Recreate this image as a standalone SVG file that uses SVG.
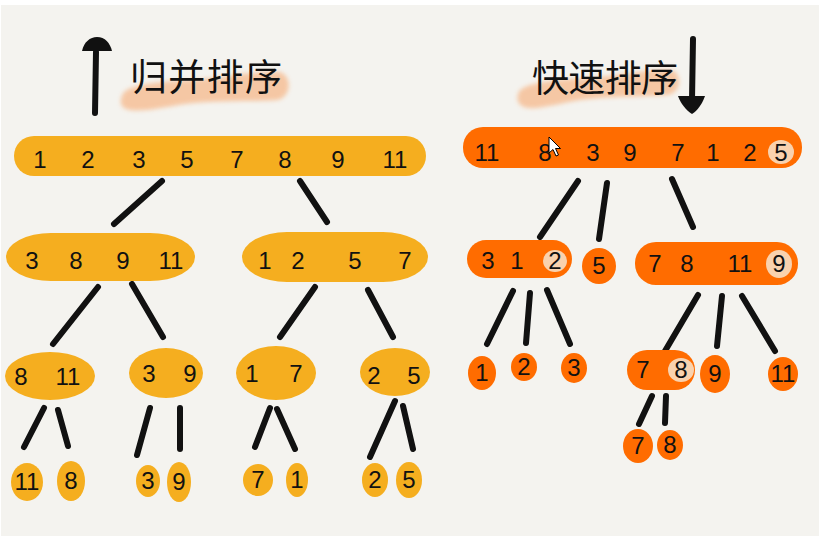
<svg xmlns="http://www.w3.org/2000/svg" width="824" height="536" viewBox="0 0 824 536">
<style>
.m{fill:#f5ae1f}
.q{fill:#ff6c00}
.p{fill:#f9d2ae}
.d{font-family:"Liberation Sans","DejaVu Sans",sans-serif;font-size:24px;fill:#111;text-anchor:middle}
.t{font-family:"Noto Sans CJK SC",sans-serif;font-size:37px;fill:#111}
.c{stroke:#111;stroke-width:6;stroke-linecap:round;fill:none}
.b{fill:#f6c39c;opacity:0.9}
</style>
<defs>
<filter id="blur" x="-10%" y="-40%" width="120%" height="180%"><feGaussianBlur stdDeviation="2"/></filter>
</defs>
<rect x="0" y="0" width="824" height="536" fill="#ffffff"/>
<rect x="1" y="5" width="818" height="531" fill="#f4f3ef"/>

<!-- titles -->
<g id="title-merge">
<path class="b" filter="url(#blur)" d="M122,96 C124,86 150,82 190,80 C225,78 255,70 280,72 C292,76 292,96 278,100 C250,102 215,100 185,104 C160,108 135,114 124,108 C120,105 120,100 122,96 Z"/>
<path d="M95,113 L96,52" class="c"/>
<path d="M82,51 C84,42 90,37 97,37 C105,37 110,43 112,51 Z" fill="#111"/>
<text x="130" y="91" class="t" textLength="152">归并排序</text>
</g>
<g id="title-quick">
<path class="b" filter="url(#blur)" d="M518,94 C520,84 548,80 585,78 C620,76 650,68 672,70 C682,74 682,92 668,95 C640,97 610,96 580,100 C555,104 532,112 522,106 C517,103 517,98 518,94 Z"/>
<path d="M693,39 L692,100" class="c"/>
<path d="M678,96 L705,96 C702,104 698,110 692,114 C686,110 681,104 678,96 Z" fill="#111"/>
<text x="532" y="92" class="t" textLength="146">快速排序</text>
</g>

<!-- connectors -->
<g id="connectors">
<path class="c" d="M162,181 L114,224"/>
<path class="c" d="M300,181 L327,222"/>
<path class="c" d="M98,287 L53,344"/>
<path class="c" d="M132,284 L163,337"/>
<path class="c" d="M315,287 L280,337"/>
<path class="c" d="M368,290 L393,337"/>
<path class="c" d="M44,408 L24,447"/>
<path class="c" d="M58,410 L68,446"/>
<path class="c" d="M150,408 L137,455"/>
<path class="c" d="M180,408 L180,449"/>
<path class="c" d="M270,408 L255,447"/>
<path class="c" d="M277,409 L295,449"/>
<path class="c" d="M395,401 L370,457"/>
<path class="c" d="M403,406 L413,449"/>
<path class="c" d="M578,181 L540,237"/>
<path class="c" d="M607,183 L599,239"/>
<path class="c" d="M672,179 L693,227"/>
<path class="c" d="M513,291 L487,344"/>
<path class="c" d="M530,293 L526,343"/>
<path class="c" d="M547,290 L570,344"/>
<path class="c" d="M698,295 L665,351"/>
<path class="c" d="M722,296 L717,346"/>
<path class="c" d="M742,296 L775,351"/>
<path class="c" d="M652,396 L639,424"/>
<path class="c" d="M666,396 L665,423"/>
</g>

<!-- merge sort nodes -->
<g id="m-root">
<rect class="m" x="14" y="136" width="412" height="40" rx="20"/>
<text class="d" x="40" y="168">1</text><text class="d" x="88" y="168">2</text><text class="d" x="139" y="168">3</text><text class="d" x="187" y="168">5</text><text class="d" x="237" y="168">7</text><text class="d" x="285" y="168">8</text><text class="d" x="338" y="168">9</text><text class="d" x="395" y="168">11</text>
</g>
<g id="m-l">
<rect class="m" x="6" y="233" width="189" height="48" rx="45" ry="24"/>
<text class="d" x="32" y="269">3</text><text class="d" x="76" y="269">8</text><text class="d" x="123" y="269">9</text><text class="d" x="171" y="269">11</text>
</g>
<g id="m-r">
<rect class="m" x="242" y="232" width="186" height="50" rx="45" ry="25"/>
<text class="d" x="265" y="269">1</text><text class="d" x="298" y="269">2</text><text class="d" x="355" y="269">5</text><text class="d" x="405" y="269">7</text>
</g>
<g id="m-ll">
<ellipse class="m" cx="50" cy="376" rx="45" ry="24"/>
<text class="d" x="21" y="385">8</text><text class="d" x="68" y="385">11</text>
</g>
<g id="m-lr">
<ellipse class="m" cx="166" cy="373" rx="37" ry="25"/>
<text class="d" x="149" y="382">3</text><text class="d" x="190" y="382">9</text>
</g>
<g id="m-rl">
<ellipse class="m" cx="276" cy="373" rx="40" ry="27"/>
<text class="d" x="252" y="382">1</text><text class="d" x="296" y="382">7</text>
</g>
<g id="m-rr">
<ellipse class="m" cx="395" cy="372" rx="35" ry="24"/>
<text class="d" x="374" y="384">2</text><text class="d" x="414" y="384">5</text>
</g>
<g id="m-11"><ellipse class="m" cx="27" cy="482" rx="16" ry="19"/><text class="d" x="27" y="490">11</text></g>
<g id="m-8"><ellipse class="m" cx="71" cy="481" rx="14" ry="20"/><text class="d" x="71" y="489">8</text></g>
<g id="m-3"><ellipse class="m" cx="148" cy="481" rx="12" ry="16"/><text class="d" x="148" y="489">3</text></g>
<g id="m-9"><ellipse class="m" cx="179" cy="482" rx="12" ry="20"/><text class="d" x="179" y="490">9</text></g>
<g id="m-7"><ellipse class="m" cx="258" cy="480" rx="15" ry="16"/><text class="d" x="258" y="488">7</text></g>
<g id="m-1"><ellipse class="m" cx="297" cy="480" rx="11" ry="17"/><text class="d" x="297" y="488">1</text></g>
<g id="m-2"><ellipse class="m" cx="375" cy="480" rx="13" ry="17"/><text class="d" x="375" y="488">2</text></g>
<g id="m-5"><ellipse class="m" cx="409" cy="480" rx="13" ry="18"/><text class="d" x="409" y="488">5</text></g>

<!-- quick sort nodes -->
<g id="q-root">
<rect class="q" x="463" y="127" width="339" height="41" rx="20"/>
<ellipse class="p" cx="781" cy="152" rx="13" ry="12"/>
<text class="d" x="487" y="161">11</text><text class="d" x="545" y="161">8</text><text class="d" x="593" y="161">3</text><text class="d" x="630" y="161">9</text><text class="d" x="678" y="161">7</text><text class="d" x="713" y="161">1</text><text class="d" x="750" y="161">2</text><text class="d" x="781" y="161">5</text>
</g>
<g id="q-l">
<rect class="q" x="467" y="240" width="105" height="38" rx="19"/>
<ellipse class="p" cx="555" cy="261" rx="12" ry="11"/>
<text class="d" x="488" y="269">3</text><text class="d" x="517" y="269">1</text><text class="d" x="555" y="269">2</text>
</g>
<g id="q-5"><ellipse class="q" cx="599" cy="266" rx="17" ry="18"/><text class="d" x="599" y="274">5</text></g>
<g id="q-r">
<rect class="q" x="635" y="242" width="163" height="43" rx="21"/>
<ellipse class="p" cx="779" cy="264" rx="13" ry="14"/>
<text class="d" x="655" y="272">7</text><text class="d" x="687" y="272">8</text><text class="d" x="740" y="272">11</text><text class="d" x="779" y="272">9</text>
</g>
<g id="q-1"><ellipse class="q" cx="482" cy="373" rx="14" ry="17"/><text class="d" x="482" y="381">1</text></g>
<g id="q-2"><ellipse class="q" cx="524" cy="367" rx="13" ry="14"/><text class="d" x="524" y="375">2</text></g>
<g id="q-3"><ellipse class="q" cx="574" cy="368" rx="13" ry="15"/><text class="d" x="574" y="376">3</text></g>
<g id="q-78">
<rect class="q" x="627" y="350" width="68" height="40" rx="20"/>
<ellipse class="p" cx="681" cy="370" rx="13" ry="12"/>
<text class="d" x="643" y="378">7</text><text class="d" x="681" y="378">8</text>
</g>
<g id="q-9"><ellipse class="q" cx="715" cy="374" rx="15" ry="19"/><text class="d" x="715" y="382">9</text></g>
<g id="q-11"><ellipse class="q" cx="783" cy="374" rx="15" ry="17"/><text class="d" x="783" y="382">11</text></g>
<g id="q-7"><ellipse class="q" cx="638" cy="446" rx="15" ry="17"/><text class="d" x="638" y="454">7</text></g>
<g id="q-8"><ellipse class="q" cx="670" cy="445" rx="13" ry="15"/><text class="d" x="670" y="453">8</text></g>

<!-- mouse pointer -->
<path d="M549,137 L549,153 L553,149.5 L556,156 L558.5,155 L555.5,148.5 L560.5,148.5 Z" fill="#fff" stroke="#000" stroke-width="1"/>
</svg>
